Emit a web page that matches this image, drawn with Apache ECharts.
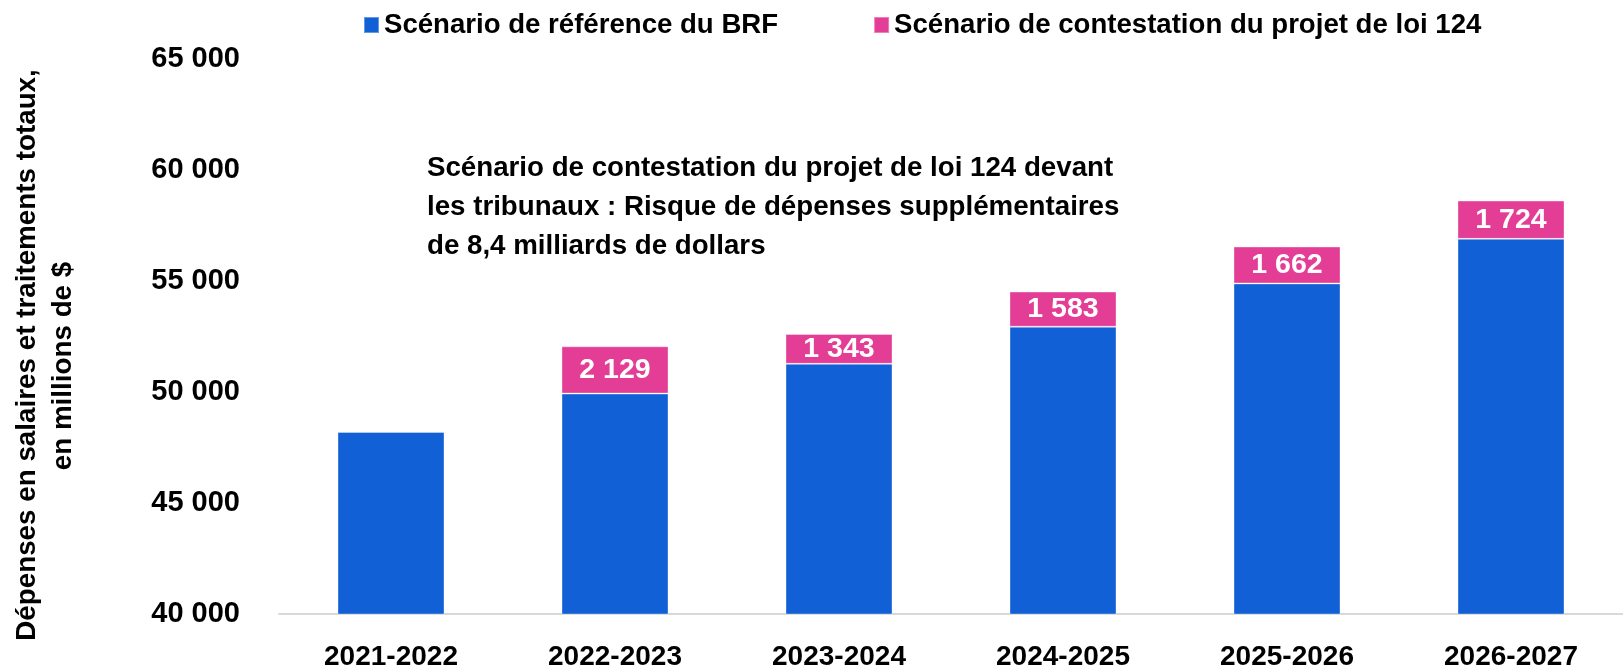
<!DOCTYPE html>
<html>
<head>
<meta charset="utf-8">
<script src="https://cdn.jsdelivr.net/npm/echarts@6/dist/echarts.min.js"></script>
<style>
  html, body { margin: 0; padding: 0; background: #fff; }
  #chart { width: 1623px; height: 671px; }
</style>
</head>
<body>
<div id="chart"></div>
<script>
// données du graphique
var categories = ['2021-2022', '2022-2023', '2023-2024', '2024-2025', '2025-2026', '2026-2027'];
var scenarioBRF = [48200, 49930, 51270, 52940, 54890, 56900];
var scenarioContestation = [null, 2129, 1343, 1583, 1662, 1724];
var yTicks = { min: 40000, max: 65000, interval: 5000 };

var seriesNames = ['Scénario de référence du BRF', 'Scénario de contestation du projet de loi 124'];
var FONT = "'Liberation Sans', Arial, sans-serif";

// 48200 -> "48 200"
function fmtEspace(v) {
    return String(Math.round(v)).replace(/\B(?=(\d{3})+(?!\d))/g, ' ');
}

var chart = echarts.init(document.getElementById('chart'));

var option = {
    animation: false,
    textStyle: { fontFamily: FONT },
    legend: {
        data: seriesNames,
        left: 363,
        top: 11,
        padding: 0,
        itemWidth: 15,
        itemHeight: 16,
        itemGap: 95,
        icon: 'rect',
        textStyle: { fontFamily: FONT, fontWeight: 'bold', fontSize: 27.6, color: '#000' }
    },
    grid: { left: 279, top: 59, width: 1354, height: 559, containLabel: false },
    xAxis: {
        type: 'category',
        data: categories,
        axisLine: { lineStyle: { color: '#d9d9d9', width: 2 } },
        axisTick: { show: false },
        axisLabel: { fontFamily: FONT, fontWeight: 'bold', fontSize: 28, color: '#000', margin: 29 }
    },
    yAxis: {
        type: 'value',
        min: yTicks.min,
        max: yTicks.max,
        interval: yTicks.interval,
        splitLine: { show: false },
        axisLine: { show: false },
        axisTick: { show: false },
        axisLabel: {
            fontFamily: FONT, fontWeight: 'bold', fontSize: 29, color: '#000', margin: 39,
            formatter: fmtEspace
        }
    },
    graphic: [
        {
            // titre de l'axe Y, ligne 1
            type: 'text',
            x: 27, y: 355,
            rotation: Math.PI / 2,
            style: {
                text: 'Dépenses en salaires et traitements totaux,',
                font: 'bold 27.8px ' + FONT,
                fill: '#000',
                align: 'center',
                verticalAlign: 'middle'
            }
        },
        {
            // titre de l'axe Y, ligne 2
            type: 'text',
            x: 63, y: 366,
            rotation: Math.PI / 2,
            style: {
                text: 'en millions de $',
                font: 'bold 27.8px ' + FONT,
                fill: '#000',
                align: 'center',
                verticalAlign: 'middle'
            }
        },
        {
            type: 'text',
            x: 427,
            y: 149,
            style: {
                text: 'Scénario de contestation du projet de loi 124 devant\nles tribunaux : Risque de dépenses supplémentaires\nde 8,4 milliards de dollars',
                font: 'bold 27.7px ' + FONT,
                fill: '#000',
                lineHeight: 39
            }
        }
    ],
    series: [
        {
            name: seriesNames[0],
            type: 'bar',
            stack: 'total',
            barWidth: 107,
            data: scenarioBRF,
            itemStyle: { color: '#1160D6', borderColor: 'rgba(255,255,255,0.35)', borderWidth: 1 }
        },
        {
            name: seriesNames[1],
            type: 'bar',
            stack: 'total',
            barWidth: 107,
            data: scenarioContestation,
            itemStyle: { color: '#E33D96', borderColor: 'rgba(255,255,255,0.35)', borderWidth: 1 },
            label: {
                show: true,
                position: 'inside',
                color: '#fff',
                fontFamily: FONT,
                fontWeight: 'bold',
                fontSize: 28.5,
                formatter: function (p) { return fmtEspace(p.value); }
            }
        }
    ]
};

chart.setOption(option);
</script>
</body>
</html>
